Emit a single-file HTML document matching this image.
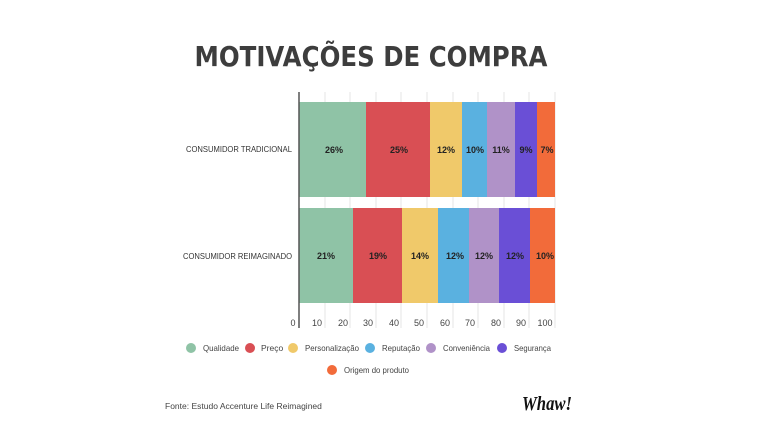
<!DOCTYPE html>
<html><head><meta charset="utf-8"><style>
html,body{margin:0;padding:0;background:#fff;}
svg{display:block;}
text{font-family:"Liberation Sans",sans-serif;}
</style></head><body>
<svg width="768" height="442" viewBox="0 0 768 442" xmlns="http://www.w3.org/2000/svg">
<rect width="768" height="442" fill="#fff"/>
<text x="371" y="66" text-anchor="middle" font-size="28" font-weight="bold" fill="#3d3d3d" textLength="353" lengthAdjust="spacingAndGlyphs" style="font-family:'DejaVu Sans','Liberation Sans',sans-serif">MOTIVAÇÕES DE COMPRA</text>
<g stroke="#e4e4e4" stroke-width="1">
<line x1="325" y1="92" x2="325" y2="328"/><line x1="350" y1="92" x2="350" y2="328"/><line x1="376" y1="92" x2="376" y2="328"/><line x1="401" y1="92" x2="401" y2="328"/><line x1="427" y1="92" x2="427" y2="328"/><line x1="453" y1="92" x2="453" y2="328"/><line x1="478" y1="92" x2="478" y2="328"/><line x1="504" y1="92" x2="504" y2="328"/><line x1="529" y1="92" x2="529" y2="328"/><line x1="555" y1="92" x2="555" y2="328"/>
</g>
<rect x="299" y="102" width="67" height="95" fill="#8fc3a6"/>
<rect x="366" y="102" width="64" height="95" fill="#d94f54"/>
<rect x="430" y="102" width="32" height="95" fill="#f0c96a"/>
<rect x="462" y="102" width="25" height="95" fill="#5ab1e0"/>
<rect x="487" y="102" width="28" height="95" fill="#b092c8"/>
<rect x="515" y="102" width="22" height="95" fill="#6a4fd6"/>
<rect x="537" y="102" width="18" height="95" fill="#f26b3a"/>
<rect x="299" y="208" width="54" height="95" fill="#8fc3a6"/>
<rect x="353" y="208" width="49" height="95" fill="#d94f54"/>
<rect x="402" y="208" width="36" height="95" fill="#f0c96a"/>
<rect x="438" y="208" width="31" height="95" fill="#5ab1e0"/>
<rect x="469" y="208" width="30" height="95" fill="#b092c8"/>
<rect x="499" y="208" width="31" height="95" fill="#6a4fd6"/>
<rect x="530" y="208" width="25" height="95" fill="#f26b3a"/>
<line x1="299" y1="92" x2="299" y2="328" stroke="#555" stroke-width="1.5"/>
<g font-size="9" font-weight="bold" fill="#222" text-anchor="middle">
<text x="334" y="153">26%</text><text x="399" y="153">25%</text><text x="446" y="153">12%</text><text x="475" y="153">10%</text><text x="501" y="153">11%</text><text x="526" y="153">9%</text><text x="547" y="153">7%</text>
<text x="326" y="259">21%</text><text x="378" y="259">19%</text><text x="420" y="259">14%</text><text x="455" y="259">12%</text><text x="484" y="259">12%</text><text x="515" y="259">12%</text><text x="545" y="259">10%</text>
</g>
<g font-size="8.5" fill="#333">
<text x="186" y="152" textLength="106" lengthAdjust="spacingAndGlyphs">CONSUMIDOR TRADICIONAL</text>
<text x="183" y="259" textLength="109" lengthAdjust="spacingAndGlyphs">CONSUMIDOR REIMAGINADO</text>
</g>
<g font-size="9" fill="#444" text-anchor="middle">
<text x="293" y="326">0</text><text x="317" y="326">10</text><text x="343" y="326">20</text><text x="368" y="326">30</text><text x="394" y="326">40</text><text x="419" y="326">50</text><text x="445" y="326">60</text><text x="470" y="326">70</text><text x="496" y="326">80</text><text x="521" y="326">90</text><text x="545" y="326">100</text>
</g>
<g font-size="8.5" fill="#444">
<circle cx="191" cy="348" r="5" fill="#8fc3a6"/><text x="203" y="351" textLength="36" lengthAdjust="spacingAndGlyphs">Qualidade</text>
<circle cx="250" cy="348" r="5" fill="#d94f54"/><text x="261" y="351">Preço</text>
<circle cx="293" cy="348" r="5" fill="#f0c96a"/><text x="305" y="351" textLength="54" lengthAdjust="spacingAndGlyphs">Personalização</text>
<circle cx="370" cy="348" r="5" fill="#5ab1e0"/><text x="382" y="351" textLength="38" lengthAdjust="spacingAndGlyphs">Reputação</text>
<circle cx="431" cy="348" r="5" fill="#b092c8"/><text x="443" y="351" textLength="47" lengthAdjust="spacingAndGlyphs">Conveniência</text>
<circle cx="502" cy="348" r="5" fill="#6a4fd6"/><text x="514" y="351" textLength="37" lengthAdjust="spacingAndGlyphs">Segurança</text>
<circle cx="332" cy="370" r="5" fill="#f26b3a"/><text x="344" y="373" textLength="65" lengthAdjust="spacingAndGlyphs">Origem do produto</text>
<text x="165" y="409">Fonte: Estudo Accenture Life Reimagined</text>
</g>
<text x="547" y="410" text-anchor="middle" font-size="20" font-weight="bold" font-style="italic" fill="#111" textLength="50" lengthAdjust="spacingAndGlyphs" style="font-family:'Liberation Serif',serif">Whaw!</text>
</svg>
</body></html>
